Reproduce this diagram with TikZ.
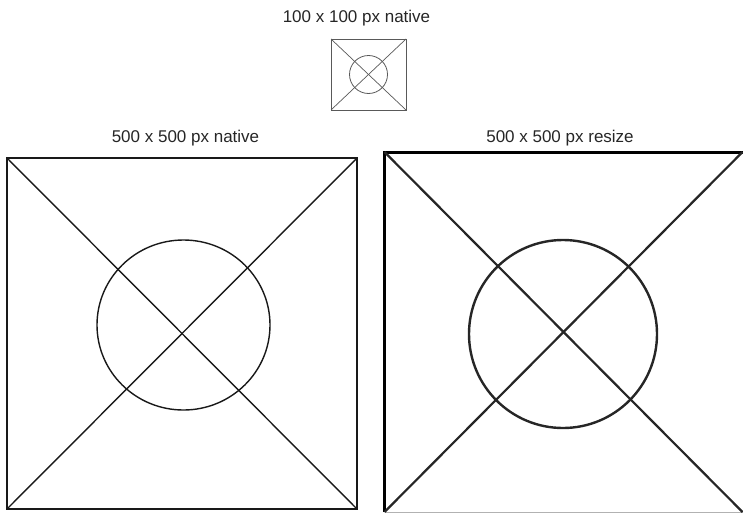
\documentclass[tikz,border=0pt]{standalone}
\usepackage{fontspec}
\setmainfont{Liberation Sans}
\usetikzlibrary{shapes.geometric}

\begin{document}
\begin{tikzpicture}[x=1pt, y=-1pt,
  caption/.style={font=\fontsize{17}{20}\selectfont, text=black!85, inner sep=0pt},
  frame/.style={inner sep=0pt, outer sep=0pt}]
\useasboundingbox (0,0) rectangle (743,514);

% 100 x 100 native
\node[caption] (capsmall) at (356.5,18) {100 x 100 px native};
\node[frame, draw=black!65, line width=0.8pt, minimum width=75pt, minimum height=71pt]
  (small) at (368.5,74.5) {};
\draw[black!65, line width=0.7pt] (small.north west) -- (small.south east);
\draw[black!65, line width=0.7pt] (small.south west) -- (small.north east);
\node[frame, circle, draw=black!65, line width=0.8pt, minimum size=38pt] (smallring) at (small.center) {};

% 500 x 500 native
\node[caption] (capnative) at (185.5,138) {500 x 500 px native};
\node[frame, draw=black!90, line width=1.6pt, minimum width=350pt, minimum height=351pt]
  (native) at (182,333.5) {};
\draw[black!90, line width=1.4pt] (native.north west) -- (native.south east);
\draw[black!90, line width=1.4pt] (native.south west) -- (native.north east);
\node[frame, ellipse, draw=black!90, line width=1.4pt, minimum width=173pt, minimum height=170pt]
  (nativering) at (183.5,325) {};

% 500 x 500 resize
\node[caption] (capresize) at (560,138) {500 x 500 px resize};
\node[frame, minimum width=358pt, minimum height=360pt] (resize) at (563.5,332) {};
\draw[black!30, line width=1pt] (resize.south east) -- (resize.south west);
\draw[black, line width=3pt] (resize.south west) -- (resize.north west) -- (resize.north east);
\draw[black!85, line width=2.2pt] (resize.north west) -- (resize.south east);
\draw[black!85, line width=2.2pt] (resize.south west) -- (resize.north east);
\node[frame, circle, draw=black!85, line width=2.4pt, minimum size=188pt] (resizering) at (563,334) {};
\end{tikzpicture}
\end{document}
